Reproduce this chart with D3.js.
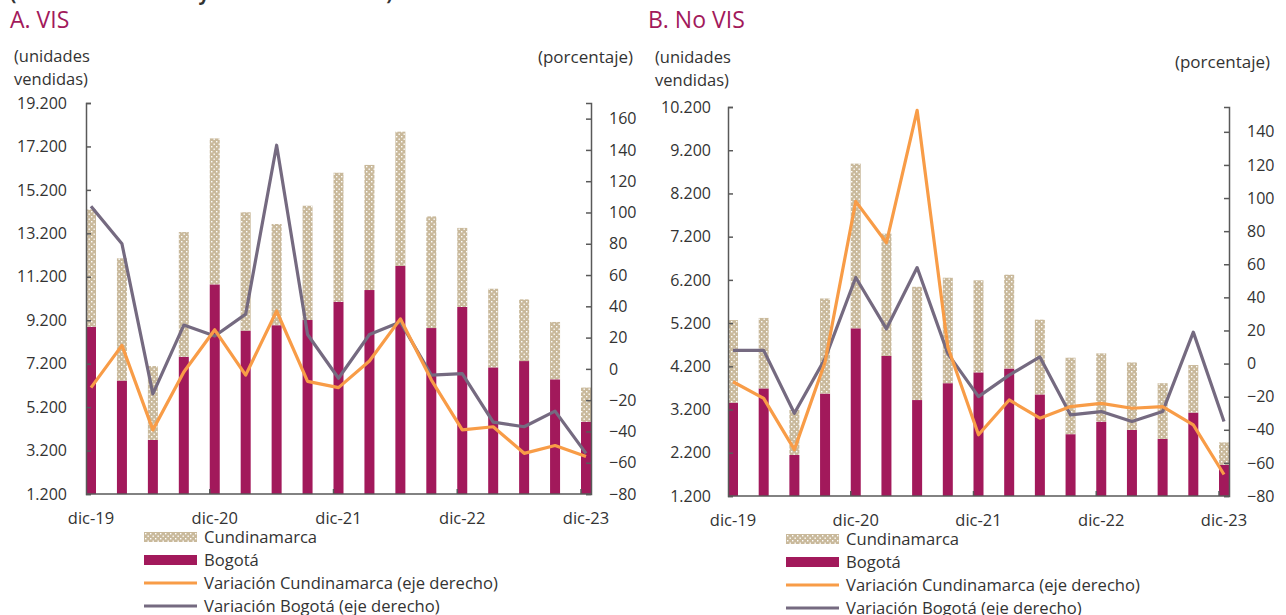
<!DOCTYPE html>
<html>
<head>
<meta charset="utf-8">
<script src="https://cdn.jsdelivr.net/npm/d3@7"></script>
<style>
  body { margin: 0; background: #fff; }
  svg text { font-family: "Open Sans", sans-serif; fill: #333; }
</style>
</head>
<body>
<div id="chart-area"></div>
<script>
// DATA
const categories = ["dic-19", "mar-20", "jun-20", "sep-20", "dic-20", "mar-21", "jun-21", "sep-21",
    "dic-21", "mar-22", "jun-22", "sep-22", "dic-22", "mar-23", "jun-23", "sep-23", "dic-23"];
const tickLabels = ["dic-19", "dic-20", "dic-21", "dic-22", "dic-23"];

// A. VIS
const visBogota = [8900, 6420, 3690, 7520, 10850, 8720, 8970, 9210, 10050, 10590, 11700, 8840, 9810, 7030, 7320, 6480, 4530];
const visCundinamarca = [5400, 5630, 3400, 5740, 6720, 5450, 4660, 5260, 5940, 5760, 6180, 5140, 3640, 3620, 2840, 2640, 1570];
const visVarCund = [-12, 15, -39, -2, 25, -4, 37, -8, -12, 5, 32, -7, -39, -37, -54, -49, -56];
const visVarBog = [104, 80, -16, 28, 21, 35, 143, 22, -6, 22, 30, -4, -3, -34, -37, -27, -54];
const visLeftTicks = [1200, 3200, 5200, 7200, 9200, 11200, 13200, 15200, 17200, 19200];
const visRightTicks = [-80, -60, -40, -20, 0, 20, 40, 60, 80, 100, 120, 140, 160];

// B. No VIS
const noVisBogota = [3360, 3690, 2150, 3570, 5080, 4440, 3420, 3810, 4060, 4150, 3550, 2630, 2920, 2730, 2520, 3130, 1920];
const noVisCundinamarca = [1910, 1630, 1040, 2200, 3810, 2830, 2620, 2440, 2130, 2170, 1730, 1770, 1580, 1560, 1290, 1100, 520];
const noVisVarCund = [-11, -21, -52, 1, 98, 73, 153, 10, -43, -22, -33, -26, -24, -27, -26, -37, -67];
const noVisVarBog = [8, 8, -30, 3, 52, 21, 58, 6, -20, -7, 4, -31, -29, -35, -29, 19, -35];
const noVisLeftTicks = [1200, 2200, 3200, 4200, 5200, 6200, 7200, 8200, 9200, 10200];
const noVisRightTicks = [-80, -60, -40, -20, 0, 20, 40, 60, 80, 100, 120, 140];

const legendItems = ["Cundinamarca", "Bogotá", "Variación Cundinamarca (eje derecho)", "Variación Bogotá (eje derecho)"];

const COL_BOG = "#A2195B";
const COL_CUND = "#C9B99B";
const COL_ORANGE = "#F89C47";
const COL_GRAY = "#756A80";
const COL_AXIS = "#595959";

const svg = d3.select("#chart-area")
    .append("svg")
    .attr("width", 1286)
    .attr("height", 615);

// dotted pattern for Cundinamarca
const pat = svg.append("defs").append("pattern")
    .attr("id", "dots")
    .attr("patternUnits", "userSpaceOnUse")
    .attr("width", 5)
    .attr("height", 5);
pat.append("rect").attr("width", 5).attr("height", 5).attr("fill", COL_CUND);
pat.append("rect").attr("x", 1).attr("y", 1).attr("width", 1.4).attr("height", 1.4).attr("fill", "#fff");
pat.append("rect").attr("x", 3.5).attr("y", 3.5).attr("width", 1.4).attr("height", 1.4).attr("fill", "#fff");

// overall title, cut at top
svg.append("text")
    .attr("x", 10)
    .attr("y", 0)
    .attr("font-size", "19px")
    .attr("font-weight", "bold")
    .text("(unidades vendidas y crecimiento anual)");

function drawPanel(cfg) {
    const barW = 10;
    const g = svg.append("g");

    g.append("text")
        .attr("x", cfg.titleX)
        .attr("y", cfg.titleY)
        .attr("font-size", "23px")
        .style("fill", COL_BOG)
        .text(cfg.title);

    g.append("text").attr("x", cfg.unitX).attr("y", cfg.unitY).attr("font-size", "16.5px").text("(unidades");
    g.append("text").attr("x", cfg.unitX).attr("y", cfg.unitY + 23).attr("font-size", "16.5px").text("vendidas)");
    g.append("text").attr("x", cfg.pctX).attr("y", cfg.pctY).attr("font-size", "17px")
        .attr("text-anchor", "end").text("(porcentaje)");

    const x = d3.scalePoint()
        .domain(categories)
        .range([cfg.left + barW / 2, cfg.right - barW / 2]);

    const y = d3.scaleLinear()
        .domain([cfg.leftTicks[0], cfg.leftTicks[cfg.leftTicks.length - 1]])
        .range([cfg.bottom, cfg.top])
        .clamp(true);

    const y2 = d3.scaleLinear()
        .domain(cfg.rightDomain)
        .range([cfg.bottom, cfg.top]);

    // stacked bars
    const rows = categories.map(function (c, i) {
        return { cat: c, bog: cfg.bog[i], cund: cfg.cund[i] };
    });
    const stack = d3.stack().keys(["bog", "cund"])(rows);

    g.selectAll(".bar-bog")
        .data(stack[0])
        .enter()
        .append("rect")
        .attr("x", function (d) { return x(d.data.cat) - barW / 2; })
        .attr("y", function (d) { return y(d[1]); })
        .attr("width", barW)
        .attr("height", function (d) { return y(d[0]) - y(d[1]); })
        .attr("fill", COL_BOG);

    g.selectAll(".bar-cund")
        .data(stack[1])
        .enter()
        .append("rect")
        .attr("x", function (d) { return x(d.data.cat) - barW / 2; })
        .attr("y", function (d) { return y(d[1]); })
        .attr("width", barW)
        .attr("height", function (d) { return y(d[0]) - y(d[1]); })
        .attr("fill", "url(#dots)");

    // lines
    const line = d3.line()
        .x(function (d, i) { return x(categories[i]); })
        .y(function (d) { return y2(d); });

    g.append("path")
        .datum(cfg.varBog)
        .attr("fill", "none")
        .attr("stroke", COL_GRAY)
        .attr("stroke-width", 3.2)
        .attr("stroke-linejoin", "round")
        .attr("d", line);

    g.append("path")
        .datum(cfg.varCund)
        .attr("fill", "none")
        .attr("stroke", COL_ORANGE)
        .attr("stroke-width", 3.2)
        .attr("stroke-linejoin", "round")
        .attr("d", line);

    // left axis
    const yAxisCall = d3.axisLeft(y)
        .tickValues(cfg.leftTicks)
        .tickSize(-5)
        .tickPadding(cfg.leftPad)
        .tickFormat(function (d) { return d3.format(",")(d).replace(",", "."); });
    const ya = g.append("g")
        .attr("transform", "translate(" + cfg.left + ",0)")
        .call(yAxisCall);

    // right axis
    const y2AxisCall = d3.axisRight(y2)
        .tickValues(cfg.rightTicks)
        .tickSize(-5)
        .tickPadding(18);
    const y2a = g.append("g")
        .attr("transform", "translate(" + cfg.right + ",0)")
        .call(y2AxisCall);

    [ya, y2a].forEach(function (a) {
        a.select(".domain").attr("stroke", COL_AXIS).attr("stroke-width", 1.5);
        a.selectAll(".tick line").attr("stroke", COL_AXIS).attr("stroke-width", 1.5);
        a.selectAll(".tick text").attr("font-size", "16px").attr("font-family", "Open Sans").style("fill", "#333");
    });

    // bottom axis
    g.append("line")
        .attr("x1", cfg.left).attr("x2", cfg.right)
        .attr("y1", cfg.bottom).attr("y2", cfg.bottom)
        .attr("stroke", COL_AXIS).attr("stroke-width", 1.5);

    g.selectAll(".xtick")
        .data(tickLabels.slice(1))
        .enter()
        .append("line")
        .attr("x1", function (d) { return x(d) - barW / 2; })
        .attr("x2", function (d) { return x(d) - barW / 2; })
        .attr("y1", cfg.bottom)
        .attr("y2", cfg.bottom - 5)
        .attr("stroke", COL_AXIS).attr("stroke-width", 1.5);

    g.selectAll(".xlabel")
        .data(tickLabels)
        .enter()
        .append("text")
        .attr("x", function (d) { return x(d); })
        .attr("y", cfg.bottom + 30)
        .attr("font-size", "16.5px")
        .attr("text-anchor", "middle")
        .text(function (d) { return d; });

    // legend
    const lg = g.append("g").attr("transform", "translate(" + cfg.legX + "," + cfg.legY + ")");
    legendItems.forEach(function (name, i) {
        const yy = i * 23;
        if (i === 0) {
            lg.append("rect").attr("x", 0).attr("y", yy - 5).attr("width", 53).attr("height", 10).attr("fill", "url(#dots)");
        } else if (i === 1) {
            lg.append("rect").attr("x", 0).attr("y", yy - 5).attr("width", 53).attr("height", 10).attr("fill", COL_BOG);
        } else {
            lg.append("line").attr("x1", 0).attr("x2", 53).attr("y1", yy).attr("y2", yy)
                .attr("stroke", i === 2 ? COL_ORANGE : COL_GRAY).attr("stroke-width", 3.2);
        }
        lg.append("text")
            .attr("x", 60)
            .attr("y", yy)
            .attr("dy", "0.35em")
            .attr("font-size", "16.6px")
            .text(name);
    });
}

drawPanel({
    title: "A. VIS", titleX: 10, titleY: 28,
    unitX: 14, unitY: 62, pctX: 633, pctY: 63,
    left: 86, right: 591, top: 103, bottom: 494,
    leftTicks: visLeftTicks, rightTicks: visRightTicks, rightDomain: [-80, 170],
    leftPad: 19,
    bog: visBogota, cund: visCundinamarca, varCund: visVarCund, varBog: visVarBog,
    legX: 144, legY: 537
});

drawPanel({
    title: "B. No VIS", titleX: 648, titleY: 28,
    unitX: 655, unitY: 63, pctX: 1270, pctY: 68,
    left: 728, right: 1229, top: 107, bottom: 496,
    leftTicks: noVisLeftTicks, rightTicks: noVisRightTicks, rightDomain: [-80, 155],
    leftPad: 17,
    bog: noVisBogota, cund: noVisCundinamarca, varCund: noVisVarCund, varBog: noVisVarBog,
    legX: 786, legY: 539
});
</script>
</body>
</html>
